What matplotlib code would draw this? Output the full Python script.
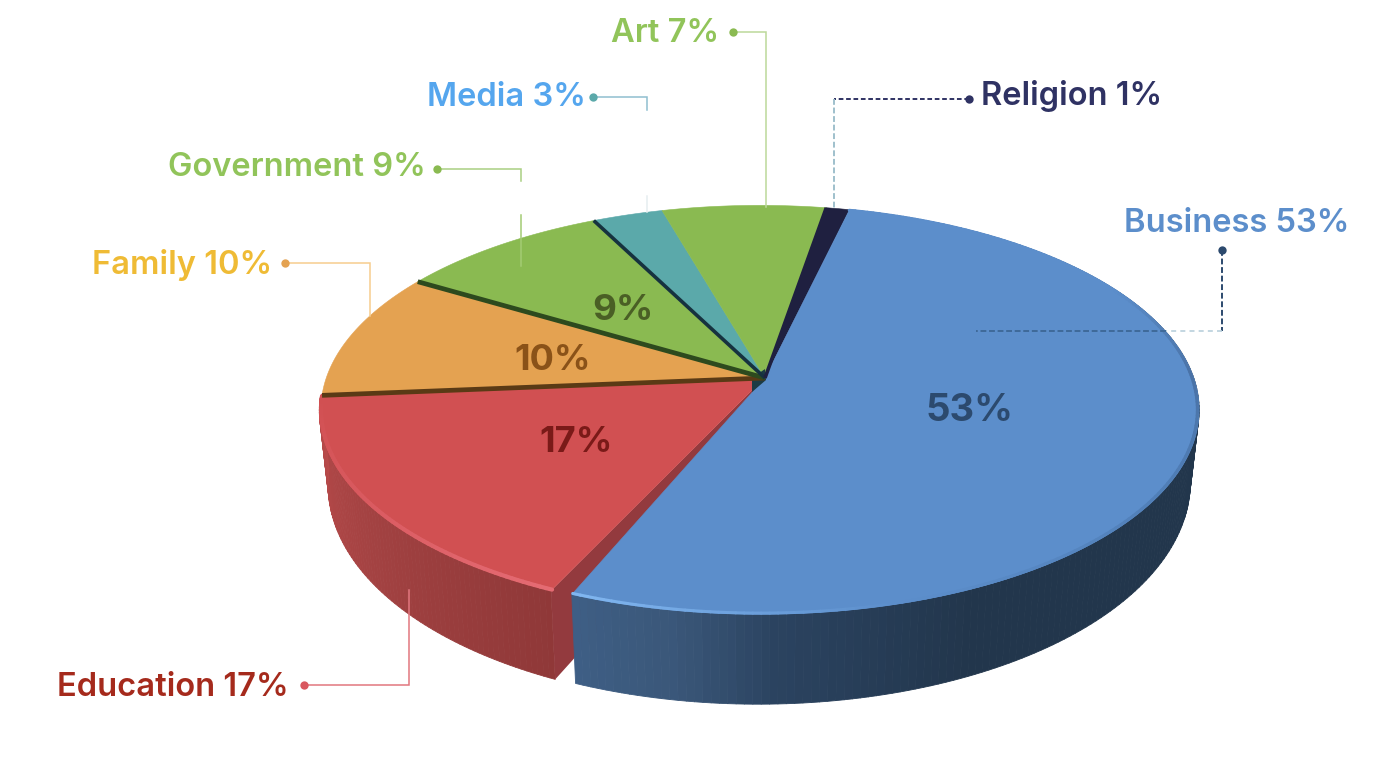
import matplotlib
matplotlib.use('Agg')
import matplotlib.pyplot as plt
from matplotlib.collections import LineCollection, PolyCollection
from matplotlib.colors import LinearSegmentedColormap
import numpy as np

plt.rcParams['font.family'] = ['Inter', 'DejaVu Sans']

# chart data
names = ['Business', 'Education', 'Family', 'Government', 'Media', 'Art', 'Religion']
shares = [53, 17, 10, 9, 3, 7, 1]
start_angle = 8.9  # degrees clockwise from the back of the pie

# styles
top_colors = ['#5c8ecb', '#d15052', '#e4a251', '#8aba51', '#5ba9aa', '#8aba51', '#1f2040']
label_colors = ['#5c8ecb', '#a52a1c', '#efbb35', '#91c45a', '#55a6ee', '#91c45a', '#2f3263']
inner_colors = ['#2c4a6e', '#7a1a18', '#8a5218', '#4a5f25']
explode = [0, 0.004, 0, 0, 0, 0, 0]


def top_xy(theta, r=1.0, ox=0.0, oy=0.0):
    # unit disc -> screen, a homography so the apex sits above the ellipse centre
    t = np.radians(theta)
    x = r * np.sin(t) + ox
    y = -r * np.cos(t) + oy
    w = 1 - 0.156 * y
    px = 765 + (432.6 * x - 31 * y) / w
    py = (378 + 141 * y) / w
    return px, py + 0.034 * (px - 765)  # the ellipse leans down to the right


def base_xy(theta, r=1.0, ox=0.0, oy=0.0):
    # same disc on the underside of the pie
    px, py = top_xy(theta, r, ox, oy)
    t = np.radians(theta)
    y = -r * np.cos(t) + oy
    return 760 + (px - 760) * 0.98, py + 70 + 20 * y


def wall(ax, th, cmap, vmin, vmax, ox=0.0, oy=0.0):
    polys, cols = [], []
    for a, b in zip(th[:-1], th[1:]):
        x0, y0 = top_xy(a, 1, ox, oy)
        x1, y1 = top_xy(b, 1, ox, oy)
        x2, y2 = base_xy(b, 1, ox, oy)
        x3, y3 = base_xy(a, 1, ox, oy)
        polys.append([(x0, y0), (x1, y1), (x2, y2), (x3, y3)])
        cols.append(cmap((0.5 * (a + b) - vmin) / (vmax - vmin)))
    ax.add_collection(PolyCollection(polys, facecolors=cols, edgecolors=cols, linewidths=0.6))


def rim(ax, th, cmap, vmin, vmax, lw, ox=0.0, oy=0.0):
    px, py = top_xy(th, 0.996, ox, oy)
    pts = np.column_stack([px, py])
    segs = np.stack([pts[:-1], pts[1:]], axis=1)
    cols = cmap((0.5 * (th[:-1] + th[1:]) - vmin) / (vmax - vmin))
    ax.add_collection(LineCollection(segs, colors=cols, linewidths=lw, capstyle='round'))


def leader(ax, xs, ys, color, ls='-', lw=1.1):
    ax.plot(xs, ys, color=color, lw=lw, ls=ls, solid_joinstyle='miter')


fig = plt.figure(figsize=(13.91, 7.57), dpi=100)
ax = fig.add_axes([0, 0, 1, 1])
ax.set_xlim(0, 1391)
ax.set_ylim(757, 0)
ax.axis('off')

edges = start_angle + np.concatenate([[0], np.cumsum(shares)]) * 3.6
offs = []
for i in range(len(shares)):
    mid = np.radians(0.5 * (edges[i] + edges[i + 1]))
    offs.append((explode[i] * np.sin(mid), -explode[i] * np.cos(mid)))

# education goes first: its walls disappear behind the business slice
th_edu = np.linspace(edges[1] + 0.9, edges[2], 80)
ox, oy = offs[1]
wall(ax, th_edu, LinearSegmentedColormap.from_list('edu', ['#8f3838', '#a34242', '#b84a4a']),
     edges[1], edges[2], ox, oy)
cx, cy = top_xy(0, 0, ox, oy)
c2x, c2y = base_xy(0, 0, ox, oy)
ex, ey = top_xy(th_edu[0], 1, ox, oy)
e2x, e2y = base_xy(th_edu[0], 1, ox, oy)
ax.fill([cx, ex, e2x, c2x], [cy, ey, e2y, c2y], color='#933a3e', lw=0)

# flat top of each slice, back slices first
for i in [2, 3, 4, 5, 6, 1]:
    th = th_edu if i == 1 else np.linspace(edges[i], edges[i + 1], 60)
    px, py = top_xy(th, 1, *offs[i])
    ax.fill(np.r_[top_xy(0, 0, *offs[i])[0], px], np.r_[top_xy(0, 0, *offs[i])[1], py],
            color=top_colors[i], lw=0.4)
rim(ax, th_edu, LinearSegmentedColormap.from_list('edur', ['#e56c74', '#da5b61', '#d15052']),
    edges[1], edges[2], 3, ox, oy)

# business wall and top, stopping a little short to leave the gap to education
th_bus = np.linspace(edges[0], edges[1] - 1.5, 200)
wall(ax, th_bus, LinearSegmentedColormap.from_list(
    'bus', [(0, '#22364c'), (0.75, '#22364c'), (0.87, '#2b4360'), (0.93, '#3a5779'), (1, '#3f5f86')]),
    edges[0], edges[1])
px, py = top_xy(th_bus)
ax.fill(np.r_[765, px], np.r_[378, py], color=top_colors[0], lw=0.4)
rim(ax, th_bus, LinearSegmentedColormap.from_list(
    'busr', [(0, '#5c8ecb'), (0.25, '#5c8ecb'), (0.4, '#4a72a6'), (0.55, '#4f7db5'), (0.8, '#5c8ecb'), (1, '#82b8f2')]),
    edges[0], edges[1], 2.2)

# dark seams between the back slices
seams = [(2, '#5a3a15', 3.4), (3, '#2d4a1e', 3.4), (4, '#16323f', 2.6), (6, '#1f2040', 2.6)]
for k, col, lw in seams:
    ex, ey = top_xy(edges[k], 1)
    ax.plot([765, ex], [378, ey], color=col, lw=lw, solid_capstyle='butt')
ax.fill([752, 765, 766, 752], [378, 369, 380, 392], color='#1c3b44', lw=0)

# leader lines
leader(ax, [733, 766, 766], [32, 32, 207], '#bcd89a')
leader(ax, [593, 647, 647], [97, 97, 110], '#8fbfd0')
leader(ax, [647, 647], [196, 212], '#e6eef0')
leader(ax, [437, 521, 521], [169, 169, 181], '#a9cf83')
leader(ax, [521, 521], [215, 266], '#a3cb74')
leader(ax, [285, 370, 370], [263, 263, 316], '#f6cd8e')
leader(ax, [304, 409, 409], [685, 685, 590], '#e2777f')
leader(ax, [969, 834], [99, 99], '#2f3263', ls=(0, (2.4, 1.4)), lw=1.4)
leader(ax, [834, 834], [99, 209], '#9fc0cc', ls=(0, (3, 1.4)), lw=1.4)
leader(ax, [1222, 1222], [250, 331], '#2c4a6e', ls=(0, (3, 1.4)), lw=1.4)
leader(ax, [1222, 1166], [331, 331], '#b9d0dc', ls=(0, (3, 2.5)), lw=1.2)
leader(ax, [1166, 976], [331, 331], '#3f6a99', ls=(0, (3, 1.4)), lw=1.4)

dots = [(1222, 250, '#2c4a6e'), (304, 685, '#d9585f'), (285, 263, '#e4a251'),
        (437, 169, '#8aba51'), (593, 97, '#5ba9aa'), (733, 32, '#8aba51'), (969, 99, '#2f3263')]
for dx, dy, col in dots:
    ax.plot(dx, dy, 'o', color=col, ms=6, mew=0)

# outer labels
label_pos = [(1349, 223, 'right'), (289, 687, 'right'), (272, 265, 'right'), (426, 168, 'right'),
             (586, 98, 'right'), (719, 34, 'right'), (981, 96, 'left')]
for name, share, col, (tx, ty, ha) in zip(names, shares, label_colors, label_pos):
    ax.text(tx, ty, '%s %d%%' % (name, share), color=col, fontsize=23.5, fontweight='semibold',
            ha=ha, va='center')

# labels on the slices
inner_pos = [(969, 411, 27.5), (576, 443, 26), (553, 360, 26), (623, 310, 26.5)]
for share, col, (tx, ty, fs) in zip(shares, inner_colors, inner_pos):
    ax.text(tx, ty, '%d%%' % share, color=col, fontsize=fs, fontweight='bold', ha='center', va='center')

fig.savefig('out.png', dpi=100)
